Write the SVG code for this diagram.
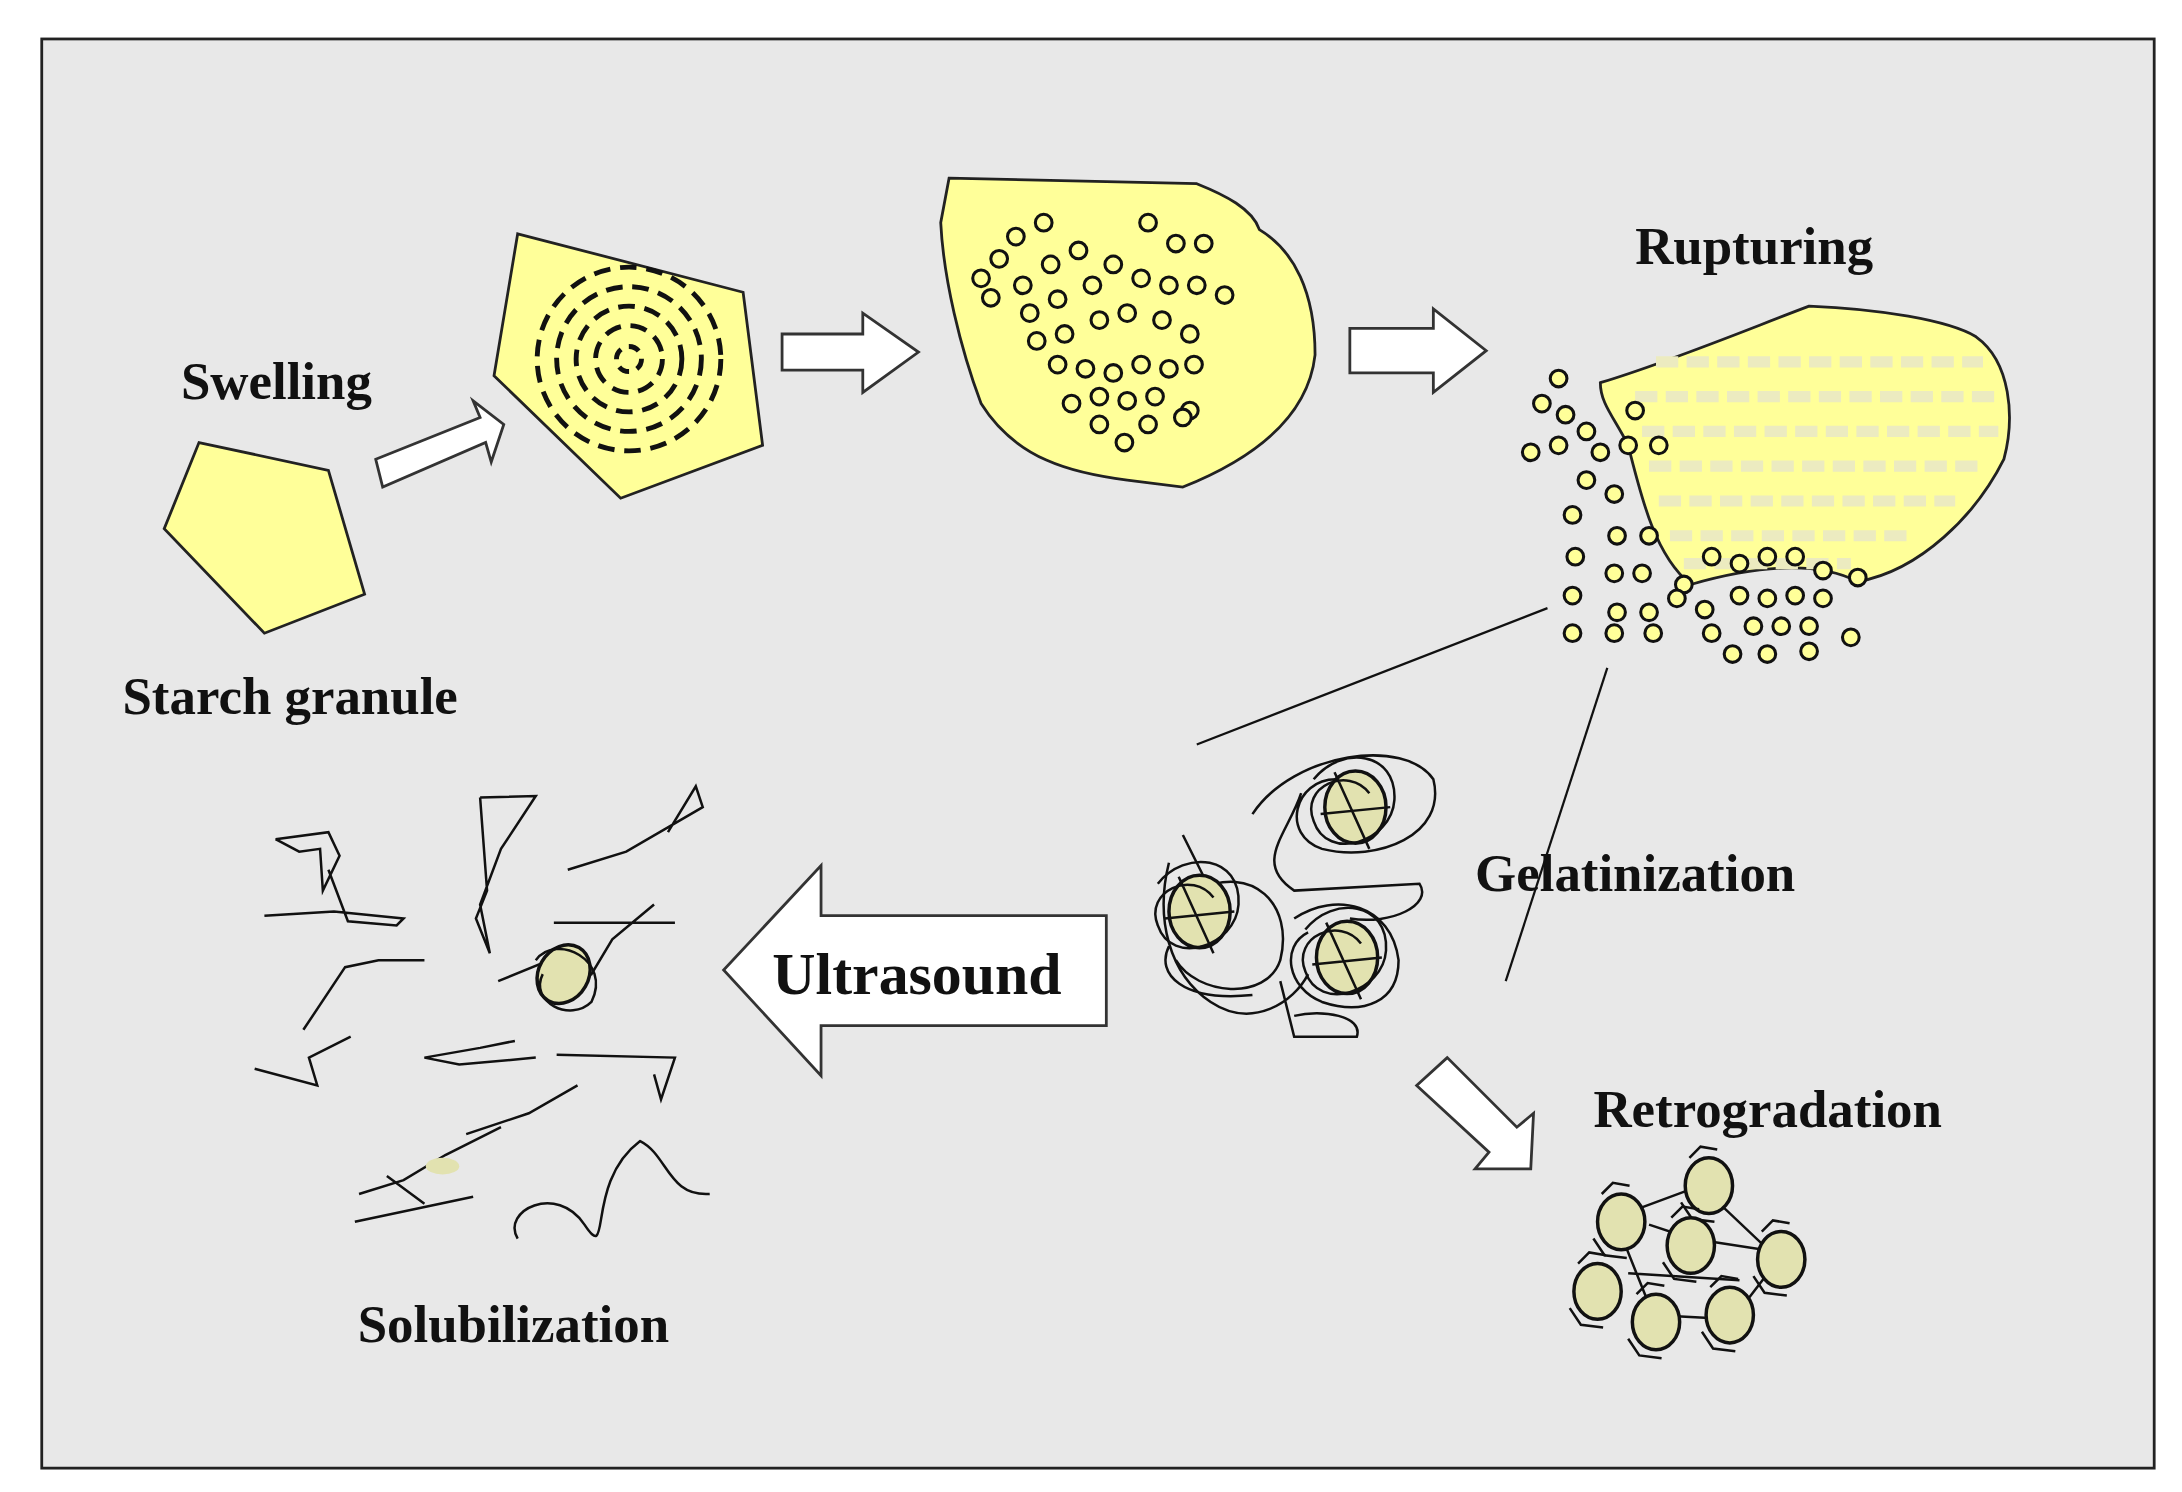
<svg xmlns="http://www.w3.org/2000/svg" width="2182" height="1492" viewBox="0 0 2182 1492">
<style>
.t{font-family:"Liberation Serif",serif;font-weight:bold;fill:#111}
.y{fill:#ffff99;stroke:#222;stroke-width:2}
.ar{fill:#fff;stroke:#333;stroke-width:2}
.c{fill:#ffff99;stroke:#111;stroke-width:2.2}
.s{fill:none;stroke:#111;stroke-width:1.8}
.g{fill:#e2e2b0;stroke:#111;stroke-width:2.5}
</style>
<defs>
<g id="dot"><circle r="6" class="c"/></g>
<g id="knot"><ellipse rx="22" ry="26" class="g"/><path class="s" d="M-30,-20 C-10,-45 30,-40 28,-5 C26,25 -20,40 -30,10 C-40,-15 -5,-30 10,-10 M-25,5 L25,0 M-15,-25 L10,30"/></g>
<g id="rk"><ellipse rx="17" ry="20" class="g"/><path class="s" d="M-14,-20 L-6,-28 L6,-26 M-20,12 L-12,24 L4,26"/></g>
</defs>
<rect width="2182" height="1492" fill="#fff"/>
<g transform="scale(1.3916)">
<rect x="30" y="28" width="1518" height="1027" fill="#e8e8e8" stroke="#222" stroke-width="2"/>
<g id="granule">
<polygon class="y" points="143,318 236,338 262,427 190,455 118,380"/>
<text class="t" x="130" y="287" font-size="38">Swelling</text>
<text class="t" x="88" y="513" font-size="38">Starch granule</text>
</g>
<g id="swollen">
<polygon class="y" points="372,168 534,210 548,320 446,358 355,270"/>
<g fill="none" stroke="#111" stroke-width="3.5" stroke-dasharray="12,7">
<circle cx="452" cy="258" r="9" stroke-dasharray="8,6"/><circle cx="452" cy="258" r="24"/><circle cx="452" cy="258" r="38"/><circle cx="452" cy="258" r="52"/><circle cx="452" cy="258" r="66"/>
</g>
</g>
<g id="blob">
<path class="y" d="M682,128 L860,132 C880,140 900,150 905,165 C930,180 945,210 945,255 C940,300 900,330 850,350 L810,345 C770,340 730,330 705,290 C690,250 678,200 676,160 Z"/>
<g>
<use href="#dot" x="705" y="200"/><use href="#dot" x="718" y="186"/><use href="#dot" x="730" y="170"/><use href="#dot" x="750" y="160"/><use href="#dot" x="712" y="214"/><use href="#dot" x="735" y="205"/><use href="#dot" x="755" y="190"/><use href="#dot" x="775" y="180"/><use href="#dot" x="740" y="225"/><use href="#dot" x="760" y="215"/><use href="#dot" x="785" y="205"/><use href="#dot" x="800" y="190"/><use href="#dot" x="825" y="160"/><use href="#dot" x="845" y="175"/><use href="#dot" x="865" y="175"/><use href="#dot" x="820" y="200"/><use href="#dot" x="840" y="205"/><use href="#dot" x="860" y="205"/><use href="#dot" x="880" y="212"/><use href="#dot" x="745" y="245"/><use href="#dot" x="765" y="240"/><use href="#dot" x="790" y="230"/><use href="#dot" x="810" y="225"/><use href="#dot" x="835" y="230"/><use href="#dot" x="855" y="240"/><use href="#dot" x="760" y="262"/><use href="#dot" x="780" y="265"/><use href="#dot" x="800" y="268"/><use href="#dot" x="820" y="262"/><use href="#dot" x="840" y="265"/><use href="#dot" x="858" y="262"/><use href="#dot" x="770" y="290"/><use href="#dot" x="790" y="285"/><use href="#dot" x="810" y="288"/><use href="#dot" x="830" y="285"/><use href="#dot" x="855" y="295"/><use href="#dot" x="790" y="305"/><use href="#dot" x="808" y="318"/><use href="#dot" x="825" y="305"/><use href="#dot" x="850" y="300"/>
</g>
</g>
<g id="ruptured">
<path d="M1150,275 C1200,260 1260,235 1300,220 C1350,222 1400,230 1420,242 C1445,260 1448,300 1440,330 C1420,370 1380,410 1335,418 C1300,400 1250,410 1215,420 C1190,400 1180,360 1170,320 C1160,300 1150,290 1150,275 Z" fill="#ffff99" stroke="#222" stroke-width="2"/>
<path d="M1190,260 H1425 M1175,285 H1438 M1180,310 H1436 M1185,335 H1426 M1192,360 H1405 M1200,385 H1375 M1210,405 H1330" stroke="#ecebc0" stroke-width="8" stroke-dasharray="16,6"/>
<use href="#dot" x="1120" y="272"/><use href="#dot" x="1108" y="290"/><use href="#dot" x="1125" y="298"/><use href="#dot" x="1100" y="325"/><use href="#dot" x="1120" y="320"/><use href="#dot" x="1140" y="310"/><use href="#dot" x="1175" y="295"/><use href="#dot" x="1150" y="325"/><use href="#dot" x="1170" y="320"/><use href="#dot" x="1192" y="320"/><use href="#dot" x="1140" y="345"/><use href="#dot" x="1160" y="355"/><use href="#dot" x="1130" y="370"/><use href="#dot" x="1162" y="385"/><use href="#dot" x="1185" y="385"/><use href="#dot" x="1132" y="400"/><use href="#dot" x="1160" y="412"/><use href="#dot" x="1180" y="412"/><use href="#dot" x="1210" y="420"/><use href="#dot" x="1230" y="400"/><use href="#dot" x="1130" y="428"/><use href="#dot" x="1162" y="440"/><use href="#dot" x="1185" y="440"/><use href="#dot" x="1205" y="430"/><use href="#dot" x="1225" y="438"/><use href="#dot" x="1250" y="405"/><use href="#dot" x="1270" y="400"/><use href="#dot" x="1290" y="400"/><use href="#dot" x="1310" y="410"/><use href="#dot" x="1250" y="428"/><use href="#dot" x="1270" y="430"/><use href="#dot" x="1290" y="428"/><use href="#dot" x="1310" y="430"/><use href="#dot" x="1335" y="415"/><use href="#dot" x="1130" y="455"/><use href="#dot" x="1160" y="455"/><use href="#dot" x="1188" y="455"/><use href="#dot" x="1230" y="455"/><use href="#dot" x="1260" y="450"/><use href="#dot" x="1280" y="450"/><use href="#dot" x="1300" y="450"/><use href="#dot" x="1245" y="470"/><use href="#dot" x="1270" y="470"/><use href="#dot" x="1300" y="468"/><use href="#dot" x="1330" y="458"/>
<text class="t" x="1175" y="190" font-size="38">Rupturing</text>
</g>
<g id="gelatinized">
<path class="s" d="M900,585 C930,540 1010,530 1030,560 C1040,600 990,620 950,610 C920,600 930,560 960,560 M935,570 C925,600 900,620 930,640 L1020,635 C1030,650 1000,665 970,660 M850,600 L875,650 M840,620 C830,660 840,700 870,720 C900,740 930,720 940,700 M860,640 C900,620 930,650 920,690 C910,720 860,715 845,690 M930,660 C960,640 1000,650 1005,690 C1005,720 980,730 950,720 C925,710 920,680 940,670 M920,705 L930,745 L975,745 C980,730 950,725 930,730 M840,680 C830,700 850,720 900,715"/>
<use href="#knot" x="974" y="580"/><use href="#knot" x="862" y="655"/><use href="#knot" x="968" y="688"/>
<text class="t" x="1060" y="640" font-size="38">Gelatinization</text>
</g>
<g id="retro">
<path class="s" d="M1160,875 L1222,852 L1278,905 L1245,948 L1188,945 L1160,875 M1185,880 L1215,890 L1280,900 M1170,915 L1250,920"/>
<use href="#rk" x="1228" y="852"/><use href="#rk" x="1165" y="878"/><use href="#rk" x="1215" y="895"/><use href="#rk" x="1280" y="905"/><use href="#rk" x="1148" y="928"/><use href="#rk" x="1190" y="950"/><use href="#rk" x="1243" y="945"/>
<text class="t" x="1145" y="810" font-size="38">Retrogradation</text>
</g>
<g id="solub">
<path class="s" d="M198,603 L236,598 L244,615 L232,640 L230,610 L215,612 L198,603 M190,658 L240,655 L290,660 L285,665 L250,662 L236,625 M345,573 L385,572 L360,610 L345,650 L352,685 L342,660 L350,640 L345,573 M408,625 L450,612 L505,580 L500,565 L480,598 M218,740 L248,695 L272,690 L305,690 M183,768 L228,780 L222,760 L252,745 M398,663 L485,663 M358,705 L395,690 L425,700 L440,675 L470,650 M385,760 L330,765 L305,760 L345,753 L370,748 M400,758 L485,760 L475,790 L470,772 M335,815 L380,800 L415,780 M258,858 L290,848 L320,830 L360,810 M255,878 L340,860 M278,845 L305,865 M372,890 C360,870 400,850 420,880 C440,910 420,850 460,820 C480,830 480,860 510,858"/>
<ellipse cx="405" cy="700" rx="18" ry="22" class="g" transform="rotate(30 405 700)"/>
<path class="s" d="M385,690 C400,670 440,690 425,720 C410,735 380,720 390,700"/>
<ellipse cx="318" cy="838" rx="12" ry="6" fill="#e2e2b0"/>
<text class="t" x="257" y="964" font-size="38">Solubilization</text>
</g>
<g id="connectors">
<polygon class="ar" points="270,330 345,300 340,288 362,305 353,332 349,318 275,350"/>
<polygon class="ar" points="562,240 620,240 620,225 660,253 620,282 620,266 562,266"/>
<polygon class="ar" points="970,236 1030,236 1030,222 1068,252 1030,282 1030,268 970,268"/>
<polygon class="ar" points="795,658 590,658 590,622 520,697 590,773 590,737 795,737"/>
<polygon class="ar" points="1040,760 1018,780 1070,828 1060,840 1100,840 1102,800 1090,810"/>
<line x1="860" y1="535" x2="1112" y2="437" stroke="#111" stroke-width="1.6"/>
<line x1="1082" y1="705" x2="1155" y2="480" stroke="#111" stroke-width="1.6"/>
<text class="t" x="555" y="714" font-size="43">Ultrasound</text>
</g>
</g>
</svg>
